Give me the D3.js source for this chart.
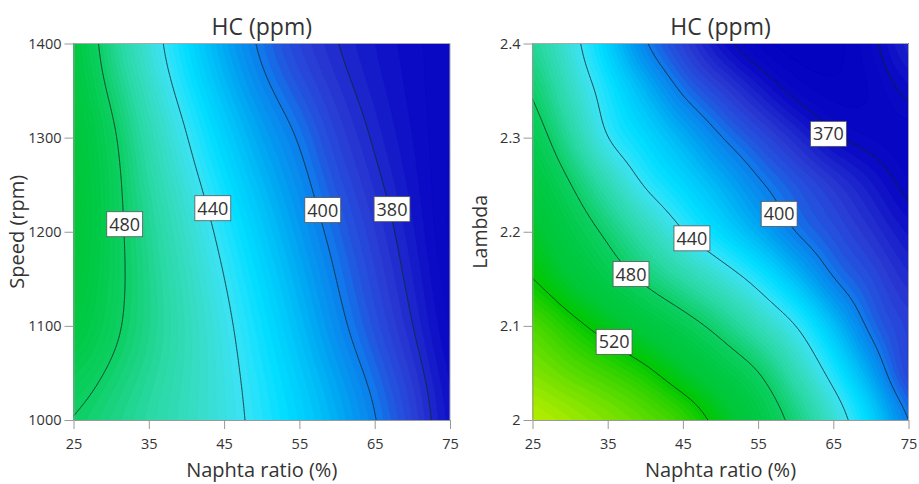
<!DOCTYPE html>
<html><head><meta charset="utf-8">
<script src="https://cdn.jsdelivr.net/npm/d3@7"></script>
<style>
body{margin:0;background:#fff}
svg{display:block}
text{font-family:"Open Sans","Noto Sans",sans-serif;fill:#333}
</style>
</head><body>
<svg id="chart" width="919" height="484"></svg>
<script>
// ---------------- DATA ----------------
const naphtaTicks = [25, 35, 45, 55, 65, 75];
const naphtaTickLabels = ["25", "35", "45", "55", "65", "75"];
const speedTicks = [1000, 1100, 1200, 1300, 1400];
const speedTickLabels = ["1000", "1100", "1200", "1300", "1400"];
const lambdaTicks = [2.0, 2.1, 2.2, 2.3, 2.4];
const lambdaTickLabels = ["2", "2.1", "2.2", "2.3", "2.4"];

// grid columns (Naphta ratio %)
const naphtaGrid = [25, 30, 35, 40, 45, 50, 55, 60, 65, 70, 75];

// Left panel: HC (ppm) vs Naphta ratio and Speed; rows = speed
const speedGrid = [1000, 1100, 1200, 1300, 1400];
const hcBySpeed = [
  [479.5, 472.1, 464.0, 455.2, 445.6, 435.4, 424.5, 412.9, 400.5, 387.5, 373.8],
  [497.6, 483.8, 470.3, 456.8, 443.3, 429.9, 416.7, 403.4, 391.5, 380.2, 369.7],
  [505.5, 486.3, 468.2, 451.4, 435.8, 421.3, 408.1, 396.0, 385.2, 375.6, 367.1],
  [503.0, 483.5, 460.0, 440.5, 424.0, 410.0, 399.0, 387.5, 379.0, 372.5, 367.5],
  [496.4, 470.5, 447.8, 428.2, 411.5, 398.0, 387.5, 380.2, 375.0, 371.0, 368.0]
];
const speedLevels = [380, 400, 440, 480];
const speedLabels = [
  {level: 480, naphta: 31.8, y: 1208},
  {level: 440, naphta: 43.5, y: 1225},
  {level: 400, naphta: 58.1, y: 1223},
  {level: 380, naphta: 67.3, y: 1224}
];

// Right panel: HC (ppm) vs Naphta ratio and Lambda; rows = lambda
const lambdaGrid = [2.0, 2.05, 2.1, 2.15, 2.2, 2.25, 2.3, 2.35, 2.4];
const hcByLambda = [
  [558, 553, 547, 540, 531, 513.8, 494.6, 474.1, 449.8, 425, 400],
  [547, 540, 533, 523.9, 509.9, 495.4, 480.9, 458.1, 434.6, 410.2, 387.8],
  [536.6, 525.3, 513, 500.5, 488, 474, 457.2, 440.3, 418, 397, 386.8],
  [520, 505.5, 491, 476.7, 463.1, 449.5, 434.8, 417.4, 400, 390.5, 380.9],
  [509.2, 493, 476.4, 458.4, 440.4, 426.6, 412.9, 399.5, 391.2, 382.8, 374.5],
  [498.9, 480.7, 458.9, 438.3, 426.1, 413.9, 401.7, 392.7, 384.2, 375.7, 368],
  [488.5, 465.6, 439.5, 426.5, 413.5, 400.5, 390.6, 380.8, 371, 367.3, 366],
  [478.2, 454.3, 432.9, 415, 398.3, 387.5, 376.7, 367.5, 363.5, 365, 371.5],
  [468, 446.3, 423.6, 400.9, 387, 373.5, 364.5, 360.5, 361, 367.5, 379]
];
const lambdaLevels = [370, 400, 440, 480, 520];
const lambdaLabels = [
  {level: 370, naphta: 64.35, y: 2.304},
  {level: 400, naphta: 57.8, y: 2.219},
  {level: 440, naphta: 46.2, y: 2.193},
  {level: 480, naphta: 38.1, y: 2.155},
  {level: 520, naphta: 35.85, y: 2.083}
];

// colour ramp (value -> colour)
const rampValues = [358, 372, 385, 393, 400, 410, 420, 428, 435, 441, 452, 465, 480, 495, 505, 520, 540, 560];
const rampColors = ["#0000be", "#0c0cc6", "#2a3ad2", "#2256e0", "#0d7eec", "#00a2f2", "#00c6fa", "#00dcff",
                    "#20e2fc", "#3ce2f2", "#38dec8", "#28d8a0", "#0dcf62", "#00c944", "#00c83a", "#00c800",
                    "#5cdc00", "#c0f000"];

// ---------------- DRAWING ----------------
const svg = d3.select("#chart");
const color = d3.scaleLinear().domain(rampValues).range(rampColors).clamp(true);

function cubic(p0, p1, p2, p3, t) {
  return p1 + 0.5 * t * (p2 - p0 + t * (2 * p0 - 5 * p1 + 4 * p2 - p3 + t * (3 * (p1 - p2) + p3 - p0)));
}
function bicubic(grid, fx, fy) {
  const rows = grid.length, cols = grid[0].length;
  const cl = (v, n) => Math.max(0, Math.min(n - 1, v));
  let i = Math.min(cols - 2, Math.max(0, Math.floor(fx))), tx = fx - i;
  let j = Math.min(rows - 2, Math.max(0, Math.floor(fy))), ty = fy - j;
  const r = [];
  for (let m = -1; m <= 2; m++) {
    const row = grid[cl(j + m, rows)];
    r.push(cubic(row[cl(i - 1, cols)], row[cl(i, cols)], row[cl(i + 1, cols)], row[cl(i + 2, cols)], tx));
  }
  return cubic(r[0], r[1], r[2], r[3], ty);
}
// separable gaussian smoothing of the rendered field (odd reflection at borders)
function smoothField(v, nx, ny, sigma) {
  const r = Math.ceil(sigma * 3), w = [];
  let s = 0;
  for (let k = -r; k <= r; k++) { const e = Math.exp(-k * k / (2 * sigma * sigma)); w.push(e); s += e; }
  for (let k = 0; k < w.length; k++) w[k] /= s;
  const tmp = new Float64Array(nx * ny), out = new Float64Array(nx * ny);
  const get = (arr, base, stride, n, m) => {
    if (m < 0) return 2 * arr[base] - arr[base + (-m) * stride];
    if (m >= n) return 2 * arr[base + (n - 1) * stride] - arr[base + (2 * (n - 1) - m) * stride];
    return arr[base + m * stride];
  };
  for (let j = 0; j < ny; j++) for (let i = 0; i < nx; i++) {
    let a = 0; for (let k = -r; k <= r; k++) a += w[k + r] * get(v, j * nx, 1, nx, i + k);
    tmp[j * nx + i] = a;
  }
  for (let i = 0; i < nx; i++) for (let j = 0; j < ny; j++) {
    let a = 0; for (let k = -r; k <= r; k++) a += w[k + r] * get(tmp, i, nx, ny, j + k);
    out[j * nx + i] = a;
  }
  return out;
}

let clipId = 0;
function drawPanel(cfg) {
  const g = svg.append("g");
  const x = d3.scaleLinear().domain([25, 75]).range([cfg.x0, cfg.x1]);
  const y = d3.scaleLinear().domain([cfg.yMin, cfg.yMax]).range([cfg.y1, cfg.y0]);
  const nx = 260, ny = 260;
  let vals = new Float64Array(nx * ny);
  const xs = cfg.gridX, ys = cfg.gridY;
  for (let j = 0; j < ny; j++) {
    const Yv = cfg.yMax - j * (cfg.yMax - cfg.yMin) / (ny - 1);
    const fy = (Yv - ys[0]) / (ys[1] - ys[0]);
    for (let i = 0; i < nx; i++) {
      const N = 25 + i * 50 / (nx - 1);
      const fx = (N - xs[0]) / (xs[1] - xs[0]);
      vals[j * nx + i] = bicubic(cfg.grid, fx, fy);
    }
  }
  vals = smoothField(vals, nx, ny, cfg.smooth);
  const toPx = (cx, cy) => [x(25 + (cx - 0.5) * 50 / (nx - 1)),
                            y(cfg.yMax - (cy - 0.5) * (cfg.yMax - cfg.yMin) / (ny - 1))];
  const proj = d3.geoTransform({point(px, py) { const p = toPx(px, py); this.stream.point(p[0], p[1]); }});
  const path = d3.geoPath(proj);

  const id = "clip" + (clipId++);
  svg.append("defs").append("clipPath").attr("id", id)
    .append("rect").attr("x", cfg.x0).attr("y", cfg.y0)
    .attr("width", cfg.x1 - cfg.x0).attr("height", cfg.y1 - cfg.y0);
  const plot = g.append("g").attr("clip-path", `url(#${id})`);

  const ext = d3.extent(vals);
  const step = 2.5;
  const thresholds = d3.range(Math.ceil(ext[0] / step) * step, ext[1], step);
  plot.append("rect").attr("x", cfg.x0).attr("y", cfg.y0)
    .attr("width", cfg.x1 - cfg.x0).attr("height", cfg.y1 - cfg.y0)
    .attr("fill", color(ext[0] + step / 2));
  const bands = d3.contours().size([nx, ny]).thresholds(thresholds)(vals);
  plot.selectAll("path.band").data(bands).join("path")
    .attr("class", "band").attr("d", path)
    .attr("fill", d => color(d.value + step / 2))
    .attr("stroke", d => color(d.value + step / 2)).attr("stroke-width", 0.3);

  // iso lines
  const onB = p => p[0] <= 0 || p[0] >= nx || p[1] <= 0 || p[1] >= ny;
  const line = d3.line().x(p => toPx(p[0], p[1])[0]).y(p => toPx(p[0], p[1])[1]);
  cfg.levels.forEach(level => {
    const mp = d3.contours().size([nx, ny]).thresholds([level])(vals)[0];
    const runs = [];
    mp.coordinates.forEach(poly => poly.forEach(ring => {
      let cur = [];
      for (let k = 0; k < ring.length - 1; k++) {
        const a = ring[k], b = ring[k + 1];
        if (onB(a) && onB(b)) {
          if (cur.length > 1) runs.push(cur);
          cur = [];
        } else {
          if (!cur.length) cur.push(a);
          cur.push(b);
        }
      }
      if (cur.length > 1) runs.push(cur);
    }));
    plot.selectAll(null).data(runs).join("path")
      .attr("d", line).attr("fill", "none")
      .attr("stroke", "#0f2a2a").attr("stroke-width", 0.9).attr("stroke-opacity", 0.9);
  });

  // frame (top, right)
  g.append("path")
    .attr("d", `M${cfg.x0},${cfg.y0}H${cfg.x1}V${cfg.y1}`)
    .attr("fill", "none").attr("stroke", "#a8a8a8").attr("stroke-width", 1);

  // axes
  const ax = g.append("g").attr("transform", `translate(0,${cfg.y1})`)
    .call(d3.axisBottom(x).tickValues(naphtaTicks).tickFormat((d, i) => naphtaTickLabels[i])
      .tickSize(9).tickSizeOuter(0).tickPadding(10));
  const ay = g.append("g").attr("transform", `translate(${cfg.x0},0)`)
    .call(d3.axisLeft(y).tickValues(cfg.yTicks).tickFormat((d, i) => cfg.yTickLabels[i])
      .tickSize(9).tickSizeOuter(0).tickPadding(3));
  [ax, ay].forEach(a => {
    a.selectAll("path.domain, line").attr("stroke", "#999");
    a.selectAll("text").style("font-size", "14.5px").attr("fill", "#3a3a3a")
      .style("font-family", '"Open Sans","Noto Sans",sans-serif');
  });

  // contour labels
  cfg.labels.forEach(lb => {
    const px = x(lb.naphta), py = y(lb.y);
    const lg = g.append("g");
    const rect = lg.append("rect");
    const t = lg.append("text").attr("x", px).attr("y", py).attr("text-anchor", "middle")
      .attr("dy", "0.36em").style("font-size", "18px").attr("fill", "#222").text(lb.level);
    const bb = t.node().getBBox();
    rect.attr("x", px - bb.width / 2 - 2.5).attr("y", py - 12.5)
      .attr("width", bb.width + 5).attr("height", 25)
      .attr("fill", "#fff").attr("stroke", "#555").attr("stroke-width", 0.8);
  });

  // titles
  const cx = (cfg.x0 + cfg.x1) / 2;
  g.append("text").attr("x", cx).attr("y", 35).attr("text-anchor", "middle")
    .style("font-size", "23px").attr("fill", "#222").text("HC (ppm)");
  g.append("text").attr("x", cx).attr("y", 477).attr("text-anchor", "middle")
    .style("font-size", "20px").attr("fill", "#222").text("Naphta ratio (%)");
  g.append("text").attr("transform", `translate(${cfg.yTitleX},${(cfg.y0 + cfg.y1) / 2}) rotate(-90)`)
    .attr("text-anchor", "middle").style("font-size", cfg.yTitleSize).attr("fill", "#222").text(cfg.yTitle);
}

drawPanel({
  x0: 73.5, x1: 450, y0: 43.5, y1: 420, smooth: 6,
  yMin: 1000, yMax: 1400, yTicks: speedTicks, yTickLabels: speedTickLabels,
  gridX: naphtaGrid, gridY: speedGrid, grid: hcBySpeed,
  levels: speedLevels, labels: speedLabels, yTitle: "Speed (rpm)", yTitleX: 24, yTitleSize: "20px"
});
drawPanel({
  x0: 532.5, x1: 908.5, y0: 43.5, y1: 420, smooth: 6,
  yMin: 2.0, yMax: 2.4, yTicks: lambdaTicks, yTickLabels: lambdaTickLabels,
  gridX: naphtaGrid, gridY: lambdaGrid, grid: hcByLambda,
  levels: lambdaLevels, labels: lambdaLabels, yTitle: "Lambda", yTitleX: 487, yTitleSize: "19.5px"
});
</script>
</body></html>
